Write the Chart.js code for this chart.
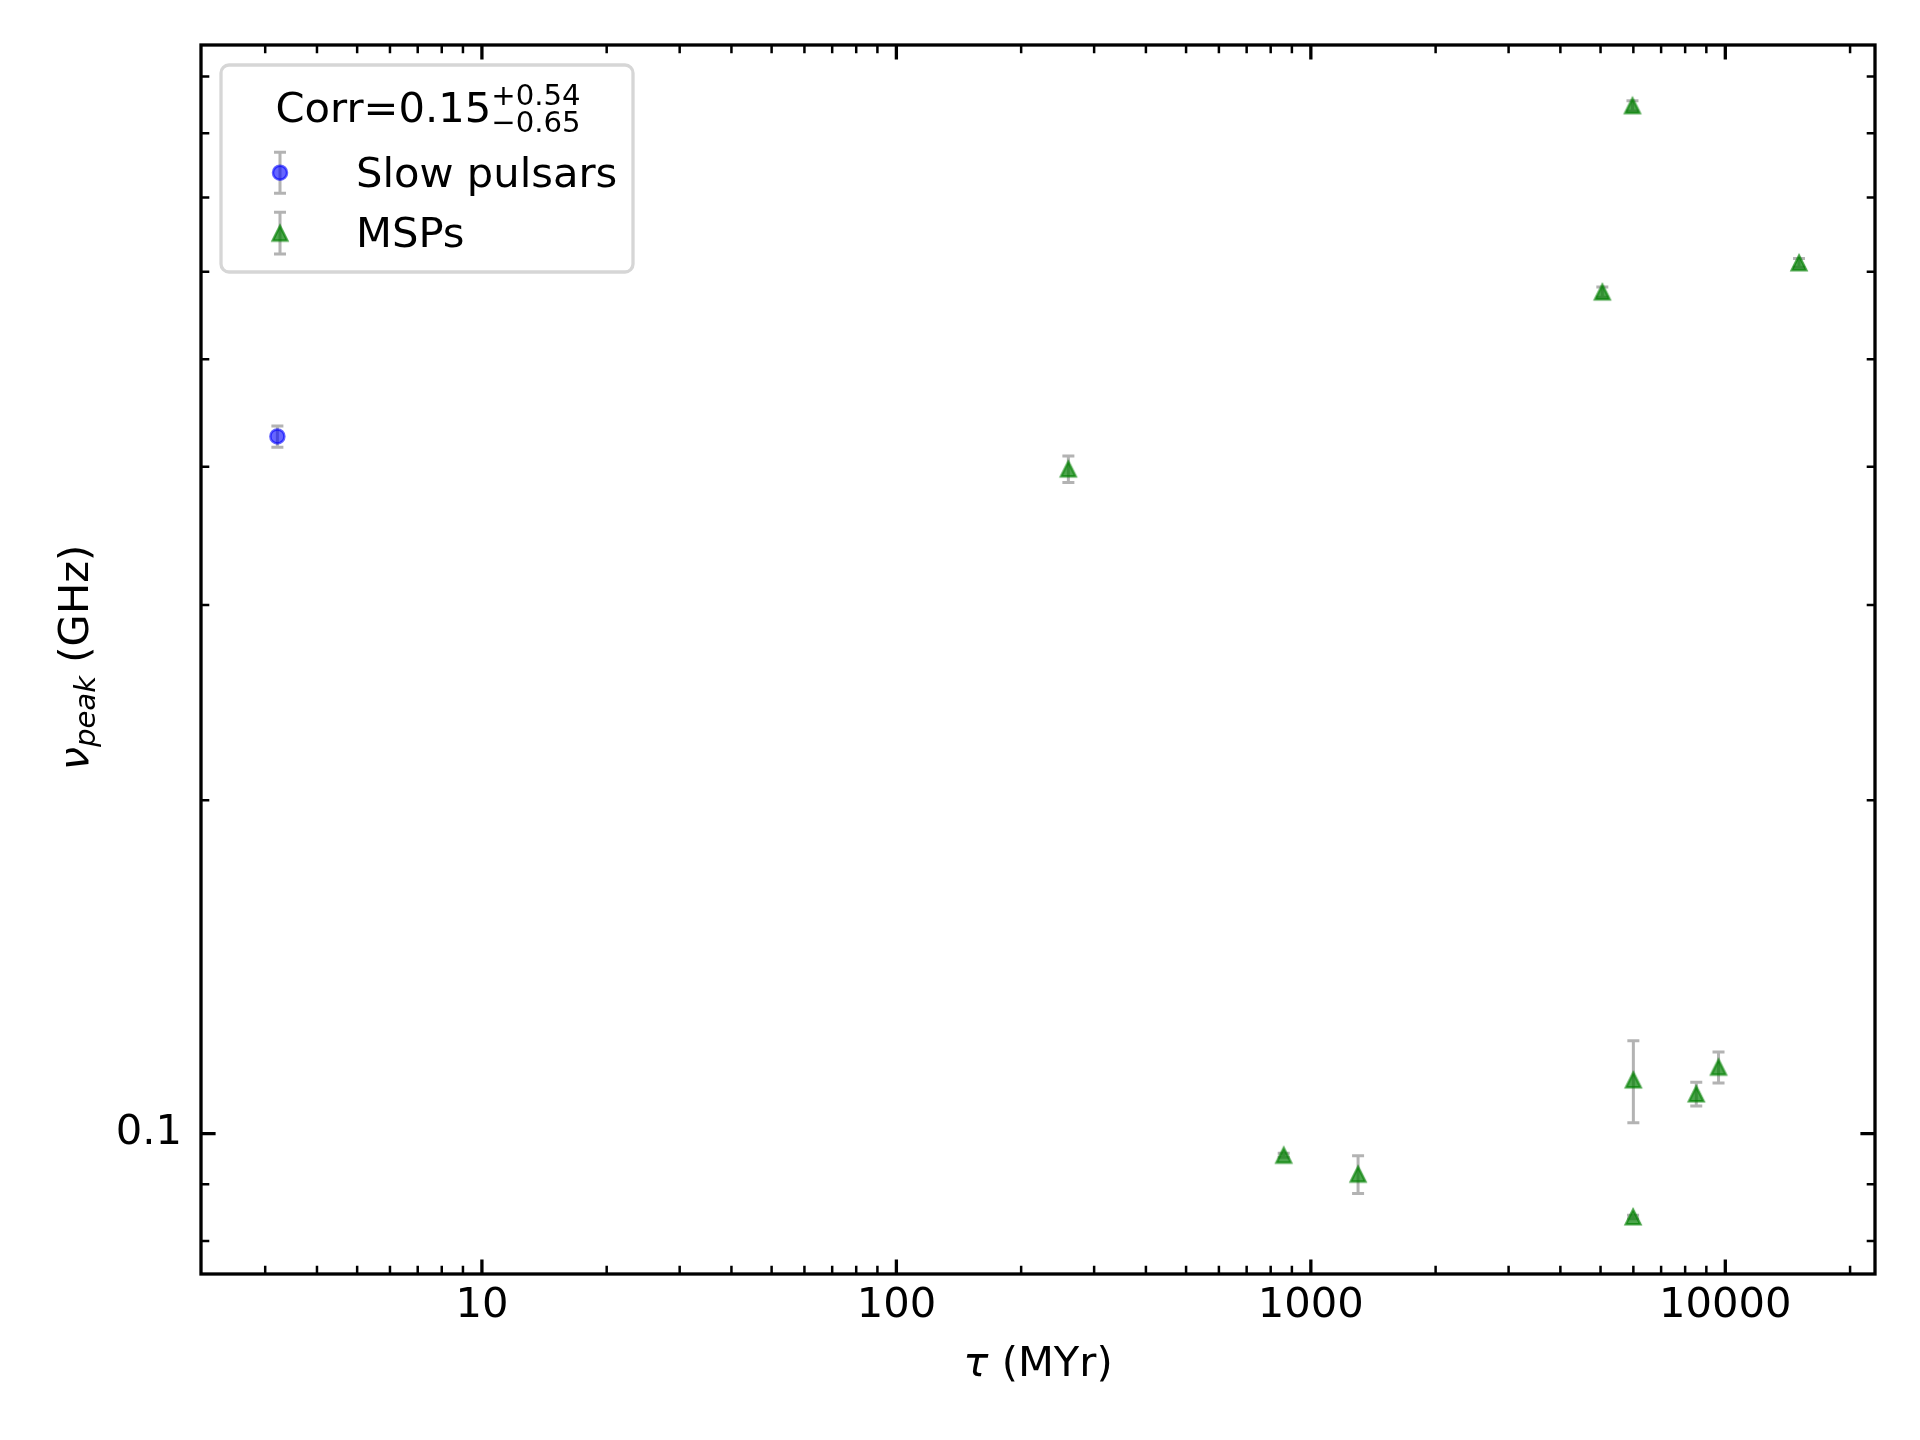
<!DOCTYPE html>
<html>
<head>
<meta charset="utf-8">
<script src="https://cdn.jsdelivr.net/npm/chart.js@4.4.1/dist/chart.umd.min.js"></script>
<style>
  html, body { margin: 0; padding: 0; background: #fff; }
  canvas { display: block; }
</style>
</head>
<body>
<canvas id="chart" width="1920" height="1440"></canvas>
<script>
// data
const slowTau = [3.21];
const slowNu = [0.426];
const slowErr = [0.0094];

const mspTau = [260, 860, 1300, 5050, 5970, 6000, 5990, 8510, 9630, 15060];
const mspNu = [0.398, 0.0956, 0.0919, 0.575, 0.847, 0.1118, 0.0841, 0.1086, 0.1148, 0.611];
const mspErr = [0.011, 0.0004, 0.0036, 0.006, 0.009, 0.0095, 0.0003, 0.0027, 0.0037, 0.0055];

const xMajor = [10, 100, 1000, 10000];
const xLabels = ["10", "100", "1000", "10000"];
const yMajor = [0.1];
const yLabels = ["0.1"];

const xMin = 2.1, xMax = 22970;
const yMin = 0.0747, yMax = 0.961;

const FONT = '"DejaVu Sans", "Liberation Sans", sans-serif';
const BLUE = "rgba(0,0,255,0.6)";
const GREEN = "rgba(0,128,0,0.7)";
const ERR = "rgba(128,128,128,0.6)";

// minor tick values 2..9 x 10^n inside a range
function minorTicks(lo, hi) {
  const out = [];
  for (let e = Math.floor(Math.log10(lo)); e <= Math.ceil(Math.log10(hi)); e++) {
    for (let m = 2; m <= 9; m++) {
      const v = m * Math.pow(10, e);
      if (v >= lo && v <= hi) out.push(v);
    }
  }
  return out;
}
const xMinor = minorTicks(xMin, xMax);
const yMinor = minorTicks(yMin, yMax);

function makeTriangle(size, lw, color) {
  const c = document.createElement("canvas");
  const pad = 4;
  c.width = c.height = size + 2 * pad;
  const g = c.getContext("2d");
  const m = c.width / 2, h = size / 2;
  g.beginPath();
  g.moveTo(m, m - h);
  g.lineTo(m - h, m + h);
  g.lineTo(m + h, m + h);
  g.closePath();
  g.fillStyle = color;
  g.fill();
  g.lineWidth = lw;
  g.strokeStyle = color;
  g.stroke();
  return c;
}
const triangle = makeTriangle(14.5, 2.5, GREEN);

function toPoints(xs, ys) {
  return xs.map((x, i) => ({ x: x, y: ys[i] }));
}

function drawErrors(ctx, sx, sy, xs, ys, errs) {
  ctx.strokeStyle = ERR;
  ctx.lineWidth = 3;
  xs.forEach((x, i) => {
    const px = sx.getPixelForValue(x);
    const top = sy.getPixelForValue(ys[i] + errs[i]);
    const bot = sy.getPixelForValue(ys[i] - errs[i]);
    ctx.beginPath();
    ctx.moveTo(px, top); ctx.lineTo(px, bot);
    ctx.moveTo(px - 6, top); ctx.lineTo(px + 6, top);
    ctx.moveTo(px - 6, bot); ctx.lineTo(px + 6, bot);
    ctx.stroke();
  });
}

function roundRect(ctx, x, y, w, h, r) {
  ctx.beginPath();
  ctx.moveTo(x + r, y);
  ctx.arcTo(x + w, y, x + w, y + h, r);
  ctx.arcTo(x + w, y + h, x, y + h, r);
  ctx.arcTo(x, y + h, x, y, r);
  ctx.arcTo(x, y, x + w, y, r);
  ctx.closePath();
}

const decor = {
  id: "decor",
  beforeDatasetsDraw(chart) {
    const ctx = chart.ctx, sx = chart.scales.x, sy = chart.scales.y;
    ctx.save();
    drawErrors(ctx, sx, sy, slowTau, slowNu, slowErr);
    drawErrors(ctx, sx, sy, mspTau, mspNu, mspErr);
    ctx.restore();
  },
  afterDraw(chart) {
    const ctx = chart.ctx, a = chart.chartArea;
    const sx = chart.scales.x, sy = chart.scales.y;
    ctx.save();
    ctx.strokeStyle = "#000";

    // inward ticks on all four sides
    const tick = (vals, len, lw, horiz) => {
      ctx.lineWidth = lw;
      ctx.beginPath();
      vals.forEach(v => {
        if (horiz) {
          const p = sx.getPixelForValue(v);
          ctx.moveTo(p, a.bottom); ctx.lineTo(p, a.bottom - len);
          ctx.moveTo(p, a.top); ctx.lineTo(p, a.top + len);
        } else {
          const p = sy.getPixelForValue(v);
          ctx.moveTo(a.left, p); ctx.lineTo(a.left + len, p);
          ctx.moveTo(a.right, p); ctx.lineTo(a.right - len, p);
        }
      });
      ctx.stroke();
    };
    tick(xMinor, 8.3, 2.5, true);
    tick(xMajor, 14.6, 3.3, true);
    tick(yMinor, 8.3, 2.5, false);
    tick(yMajor, 14.6, 3.3, false);

    ctx.lineWidth = 3.3;
    ctx.strokeRect(a.left, a.top, a.right - a.left, a.bottom - a.top);

    // axis titles
    ctx.fillStyle = "#000";
    ctx.textBaseline = "alphabetic";
    ctx.textAlign = "left";
    ctx.font = "italic 41.67px " + FONT;
    const wTau = ctx.measureText("τ").width;
    ctx.font = "41.67px " + FONT;
    const wMyr = ctx.measureText(" (MYr)").width;
    let u = (a.left + a.right) / 2 - (wTau + wMyr) / 2;
    ctx.font = "italic 41.67px " + FONT;
    ctx.fillText("τ", u, 1376);
    ctx.font = "41.67px " + FONT;
    ctx.fillText(" (MYr)", u + wTau, 1376);

    ctx.save();
    ctx.translate(88, (a.top + a.bottom) / 2 - 2);
    ctx.rotate(-Math.PI / 2);
    ctx.font = "italic 41.67px " + FONT;
    const wNu = ctx.measureText("ν").width;
    ctx.font = "italic 29.17px " + FONT;
    const wPeak = ctx.measureText("peak").width;
    ctx.font = "41.67px " + FONT;
    const wGhz = ctx.measureText(" (GHz)").width;
    u = -(wNu + wPeak + wGhz) / 2;
    ctx.font = "italic 41.67px " + FONT;
    ctx.fillText("ν", u, 0);
    ctx.font = "italic 29.17px " + FONT;
    ctx.fillText("peak", u + wNu, 6.5);
    ctx.font = "41.67px " + FONT;
    ctx.fillText(" (GHz)", u + wNu + wPeak, 0);
    ctx.restore();

    // legend
    roundRect(ctx, 221, 65, 412, 207, 8);
    ctx.fillStyle = "rgba(255,255,255,0.8)";
    ctx.fill();
    ctx.lineWidth = 3.3;
    ctx.strokeStyle = "#d6d6d6";
    ctx.stroke();

    ctx.fillStyle = "#000";
    ctx.font = "41.67px " + FONT;
    ctx.fillText("Corr=0.15", 275.5, 121.7);
    const wCorr = ctx.measureText("Corr=0.15").width;
    ctx.font = "29.17px " + FONT;
    ctx.fillText("+0.54", 275.5 + wCorr, 105);
    ctx.fillText("−0.65", 275.5 + wCorr, 131.7);

    ctx.font = "41.67px " + FONT;
    ctx.fillText("Slow pulsars", 356, 186.7);
    ctx.fillText("MSPs", 356, 246.7);

    ctx.strokeStyle = ERR;
    ctx.lineWidth = 3;
    [[152.3, 193.3], [212.3, 254]].forEach(([t, b]) => {
      ctx.beginPath();
      ctx.moveTo(280, t); ctx.lineTo(280, b);
      ctx.moveTo(274, t); ctx.lineTo(286, t);
      ctx.moveTo(274, b); ctx.lineTo(286, b);
      ctx.stroke();
    });
    ctx.beginPath();
    ctx.arc(280, 172.7, 7, 0, Math.PI * 2);
    ctx.fillStyle = BLUE;
    ctx.fill();
    ctx.lineWidth = 2.5;
    ctx.strokeStyle = BLUE;
    ctx.stroke();
    ctx.drawImage(triangle, 280 - triangle.width / 2, 233.3 - triangle.height / 2);

    ctx.restore();
  }
};

new Chart(document.getElementById("chart"), {
  type: "scatter",
  data: {
    datasets: [
      {
        label: "Slow pulsars",
        data: toPoints(slowTau, slowNu),
        pointStyle: "circle",
        pointRadius: 7,
        borderWidth: 2.5,
        backgroundColor: BLUE,
        borderColor: BLUE
      },
      {
        label: "MSPs",
        data: toPoints(mspTau, mspNu),
        pointStyle: triangle,
        pointRadius: 8
      }
    ]
  },
  options: {
    responsive: false,
    animation: false,
    devicePixelRatio: 1,
    layout: { padding: { top: 45, right: 45, left: 0, bottom: 0 } },
    plugins: { legend: { display: false }, tooltip: { enabled: false } },
    scales: {
      x: {
        type: "logarithmic",
        min: xMin,
        max: xMax,
        bounds: "data",
        grid: { display: false, drawTicks: false },
        border: { display: false },
        afterBuildTicks: s => {
          s.ticks = xMajor.concat(xMinor).sort((p, q) => p - q).map(v => ({ value: v }));
        },
        afterFit: s => { s.height = 166; },
        ticks: {
          autoSkip: false,
          maxRotation: 0,
          padding: 7,
          color: "#000",
          font: { family: FONT, size: 41.67 },
          callback: v => {
            const i = xMajor.indexOf(v);
            return i >= 0 ? xLabels[i] : "";
          }
        }
      },
      y: {
        type: "logarithmic",
        min: yMin,
        max: yMax,
        bounds: "data",
        grid: { display: false, drawTicks: false },
        border: { display: false },
        afterBuildTicks: s => {
          s.ticks = yMajor.concat(yMinor).sort((p, q) => p - q).map(v => ({ value: v }));
        },
        afterFit: s => { s.width = 201; },
        ticks: {
          autoSkip: false,
          padding: 19,
          color: "#000",
          font: { family: FONT, size: 41.67 },
          callback: v => {
            const i = yMajor.indexOf(v);
            return i >= 0 ? yLabels[i] : "";
          }
        }
      }
    }
  },
  plugins: [decor]
});
</script>
</body>
</html>
